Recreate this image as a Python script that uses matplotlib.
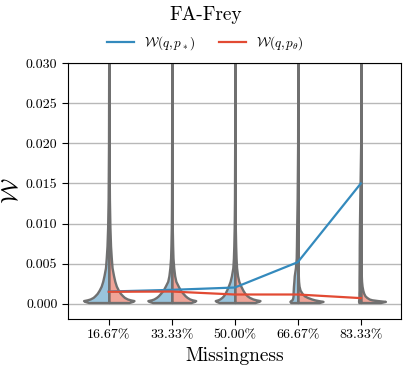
import numpy as np
import matplotlib
matplotlib.use("Agg")
import matplotlib.pyplot as plt
from matplotlib.colors import to_rgba
from matplotlib.ticker import FormatStrFormatter

plt.rcParams['font.family'] = 'serif'
plt.rcParams['font.serif'] = ['cmr10']
plt.rcParams['mathtext.fontset'] = 'cm'
plt.rcParams['axes.formatter.use_mathtext'] = True

labels = ['16.67%', '33.33%', '50.00%', '66.67%', '83.33%']

# niveles de W (en unidades de 1e-4) donde se leyo la densidad de cada medio violin
levels = [1.6, 3, 4, 5, 6, 8, 10, 13, 17, 22, 28, 35, 45, 57, 72, 95, 130, 200, 350]

# densidad relativa (1 = punto mas ancho)
blue_dens = [
    [0.80, 0.95, 1.00, 0.85, 0.74, 0.62, 0.55, 0.46, 0.38, 0.30, 0.24, 0.19, 0.13, 0.10, 0.07, 0.045, 0.025, 0.01, 0],
    [0.80, 0.95, 1.00, 0.85, 0.75, 0.64, 0.56, 0.47, 0.36, 0.27, 0.17, 0.12, 0.08, 0.05, 0.035, 0.02, 0.01, 0.005, 0],
    [0.80, 0.95, 1.00, 0.86, 0.77, 0.66, 0.58, 0.50, 0.42, 0.33, 0.24, 0.17, 0.10, 0.07, 0.05, 0.03, 0.015, 0.005, 0],
    [0.90, 1.00, 0.90, 0.75, 0.68, 0.63, 0.60, 0.60, 0.58, 0.55, 0.50, 0.45, 0.30, 0.20, 0.17, 0.14, 0.08, 0.02, 0],
    [0.90, 1.00, 1.00, 0.95, 0.90, 0.85, 0.85, 0.85, 0.80, 0.80, 0.80, 0.78, 0.75, 0.72, 0.70, 0.62, 0.45, 0.05, 0],
]
red_dens = [
    [0.80, 0.95, 1.00, 0.85, 0.74, 0.62, 0.55, 0.46, 0.38, 0.30, 0.24, 0.19, 0.13, 0.10, 0.07, 0.045, 0.025, 0.01, 0],
    [0.80, 0.95, 1.00, 0.85, 0.75, 0.64, 0.56, 0.47, 0.36, 0.27, 0.17, 0.12, 0.08, 0.05, 0.035, 0.02, 0.01, 0.005, 0],
    [0.80, 0.95, 1.00, 0.84, 0.72, 0.58, 0.49, 0.40, 0.32, 0.24, 0.16, 0.11, 0.07, 0.05, 0.035, 0.02, 0.01, 0.005, 0],
    [0.85, 1.00, 0.82, 0.66, 0.55, 0.38, 0.26, 0.17, 0.09, 0.05, 0.03, 0.02, 0.015, 0.01, 0.007, 0.004, 0.002, 0.001, 0],
    [0.80, 1.00, 0.70, 0.45, 0.34, 0.24, 0.17, 0.12, 0.08, 0.05, 0.03, 0.02, 0.012, 0.008, 0.005, 0.003, 0.002, 0.001, 0],
]
blue_widths = [0.8, 0.76, 0.62, 0.25, 0.07]
red_widths = [0.8, 0.76, 0.8, 0.8, 0.78]

w_star = [0.00153, 0.00174, 0.00203, 0.00519, 0.0150]
w_theta = [0.00150, 0.00153, 0.00116, 0.00116, 0.00071]

c_blue = '#348ABD'
c_red = '#E24A33'

fig = plt.figure(figsize=(4.11, 3.71), dpi=100)
ax = fig.add_axes([0.165, 0.14, 0.811, 0.69])
pos = np.arange(len(labels))
coords = np.array(levels) * 1e-4

for dens, widths, side, col, means in [(blue_dens, blue_widths, 'low', c_blue, w_star),
                                       (red_dens, red_widths, 'high', c_red, w_theta)]:
    stats = [dict(coords=coords, vals=np.array(d), mean=m, median=m,
                  min=coords[0], max=coords[-1]) for d, m in zip(dens, means)]
    vp = ax.violin(stats, positions=pos, widths=widths, side=side, showextrema=False)
    for b in vp['bodies']:
        b.set_alpha(None)
        b.set_facecolor(to_rgba(col, 0.5))
        b.set_edgecolor('#707070')
        b.set_linewidth(1.7)
        b.set_joinstyle('round')

ax.plot(pos, w_star, color=c_blue, lw=1.6, label=r'$\mathcal{W}(q, p_*)$', zorder=3)
ax.plot(pos, w_theta, color=c_red, lw=1.6, label=r'$\mathcal{W}(q, p_\theta)$', zorder=3)

ax.set_ylim(-0.0019, 0.030)
ax.set_xlim(-0.65, 4.64)
ax.set_xticks(pos)
ax.set_xticklabels(labels)
ax.set_yticks(np.arange(0, 0.0301, 0.005))
ax.yaxis.set_major_formatter(FormatStrFormatter('%.3f'))
ax.tick_params(labelsize=10, direction='out', length=4)
ax.yaxis.grid(True, color='#b8b8b8', lw=1)
ax.set_axisbelow(True)
ax.set_xlabel('Missingness', fontsize=14)
ax.set_ylabel(r'$\mathcal{W}$', fontsize=17)
ax.yaxis.set_label_coords(-0.135, 0.5)

fig.suptitle('FA-Frey', fontsize=14, y=0.985)
fig.legend(loc='center', bbox_to_anchor=(0.5, 0.885), ncol=2, frameon=False,
           fontsize=9.5, handlelength=2.0, columnspacing=1.8)

fig.savefig('out.png', dpi=100)
